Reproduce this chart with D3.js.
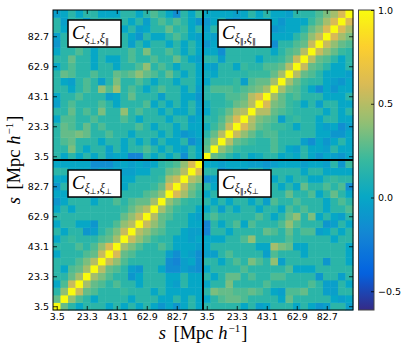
<!DOCTYPE html>
<html><head><meta charset="utf-8">
<script src="https://cdn.jsdelivr.net/npm/d3@7"></script>
<style>body{margin:0;background:#fff}svg{display:block}</style>
</head><body>
<svg id="c" width="407" height="351"></svg>
<script>
// ---------- data ----------
const sTicks = ["3.5","23.3","43.1","62.9","82.7"];
const sTickBins = [0,4,8,12,16];
const cbTicks = [-0.5, 0.0, 0.5, 1.0];
const colorDomain = [-0.6, 1.0];
const parulaStops = ["#352a87","#0363e1","#1485d4","#06a7c6","#38b99e","#92bf73","#d9ba56","#fcce2e","#f9fb0e"];

// C_{xi_perp, xi_par} as drawn in the top-left panel (rows top -> bottom, columns left -> right)
const crossRows = [
 [-.05,0,.15,0,.15,.15,0,0,0,.15,.15,0,.15,.25,.15,0,-.15,.15,0,.2],
 [.15,-.05,.15,.15,-.05,.15,.15,.15,.15,.15,0,.15,-.05,.15,.25,.15,.25,.15,0,-.1],
 [.15,0,-.05,-.05,.15,.15,.15,.15,.15,0,.15,-.05,0,.15,.15,.3,.15,.2,0,.15],
 [-.05,.15,-.05,-.05,.15,.15,-.1,.15,.15,.15,0,-.1,.15,0,0,.15,.25,.15,0,-.05],
 [-.1,.15,.15,.15,-.1,.15,.15,.15,.15,.15,-.05,.15,0,.15,.15,0,.15,0,.15,0],
 [0,.15,.15,.25,.15,0,.15,.15,.15,.15,.25,.15,.35,.15,.15,.25,.15,0,.15,0],
 [.15,.15,.3,.15,.15,0,.15,0,0,.15,.25,.15,.15,.25,.15,.15,.3,.15,0,-.05],
 [0,.15,.25,.15,.15,0,.15,.15,0,.15,.15,.25,.4,.15,.25,.15,0,.15,.15,0],
 [.15,.3,.25,.15,.15,.25,.15,.15,.3,.25,.3,.4,.3,.25,.15,.3,.15,0,.15,0],
 [.15,0,-.05,.15,.25,.15,-.05,.15,.35,.15,.15,.25,.15,0,.15,.15,0,.15,.15,0],
 [.15,.15,0,.15,.25,.15,.4,.25,.45,.15,.25,.15,0,.15,.25,.15,.15,0,.15,-.05],
 [0,.15,.15,.25,.15,.15,.15,-.05,0,.15,.3,.15,.15,.15,-.05,.15,.15,0,0,-.1],
 [-.05,.15,.25,.15,.15,.15,.25,.15,0,.15,.15,.15,.25,0,.15,0,.15,0,.15,-.05],
 [.15,.15,.3,.15,.25,.15,.35,.15,.15,.4,.15,.25,.15,.15,0,.15,0,0,.15,-.05],
 [0,.25,.25,.15,.15,.25,.15,.15,.15,.25,.15,0,.15,.15,.15,0,.15,.15,-.05,0],
 [.15,.3,.25,.15,.3,.15,.25,.15,.15,.15,.15,.25,.15,0,.15,.15,0,.15,0,0],
 [.15,.3,.3,.35,.3,.15,.15,.25,.15,.15,0,.15,.15,.15,0,.15,0,-.1,-.05,0],
 [.15,.25,.3,.15,.15,.15,0,.15,.15,0,.15,0,.15,-.05,.15,0,0,.15,-.15,-.05],
 [.15,.15,.35,.15,0,.15,.15,-.05,.15,0,.15,.15,.25,.15,0,.15,0,-.05,.15,0],
 [.15,0,.15,0,.15,0,.15,-.05,0,0,-.2,-.2,.15,0,.15,0,.15,-.15,.15,0]
];

// C_{xi_par, xi_par}: row j (bin from bottom) lists bins i = j+1 .. 19 (symmetric, diagonal = 1)
const parUpper = [
 [.3,.25,.15,.05,.15,0,.05,.15,.15,0,.05,0,.15,0,-.1,0,-.05,-.1,0],
 [.4,.3,.2,.15,.15,.15,.15,.25,.15,0,-.05,.15,0,0,-.05,.15,0,0],
 [.5,.3,.25,.2,.15,.15,.25,.15,.15,.15,-.05,-.15,0,-.1,0,.15,0],
 [.55,.4,.3,.2,.25,.25,.15,.15,.15,.15,.15,0,0,-.1,-.1,0],
 [.6,.45,.3,.25,.2,.2,.15,0,.15,.15,0,-.05,0,-.15,-.05],
 [.5,.35,.3,.25,-.05,.15,.2,.15,.15,0,.15,.15,0,0],
 [.5,.5,.3,.25,.2,.15,.15,.15,.15,0,.15,0,.15],
 [.6,.35,.3,.2,.15,0,.15,-.05,.15,.15,0,0],
 [.45,.3,.2,.25,.15,.15,.15,0,0,0,.15],
 [.45,.3,.25,.15,0,-.15,0,-.1,0,0],
 [.45,.3,.2,.15,.15,0,-.05,-.1,0],
 [.5,.3,.25,.15,0,0,0,-.05],
 [.55,.3,.25,.15,0,0,.15],
 [.5,.3,.25,.15,0,.15],
 [.55,.4,.3,.2,.15],
 [.55,.4,.3,.25],
 [.6,.45,.35],
 [.6,.45],
 [.6]
];

// C_{xi_perp, xi_perp}: same layout
const perpUpper = [
 [.3,.15,0,.15,.15,.15,0,.15,0,.15,0,.15,0,-.1,0,-.1,0,.15,0],
 [.4,.25,.15,0,.15,.15,.15,.15,0,.15,.15,.15,0,0,.15,0,.15,0],
 [.55,.3,.25,.15,.15,.15,.2,.15,.15,.15,0,.15,0,0,0,0,0],
 [.45,.3,.25,.15,.25,.15,.15,0,.15,.15,.15,0,-.05,.15,0,0],
 [.45,.35,.25,.15,.15,-.1,0,.15,.15,.15,0,0,.15,0,0],
 [.5,.3,.25,.15,-.05,-.1,.15,.15,0,-.15,-.15,-.05,-.1,-.15],
 [.55,.4,.25,.15,.15,.15,.15,.15,-.15,-.2,-.05,0,-.15],
 [.6,.3,.25,.15,.15,.15,.15,-.05,-.15,0,-.05,-.15],
 [.45,.35,.25,.15,.15,.25,.15,0,0,0,-.05],
 [.55,.4,.3,.2,.15,.15,0,0,-.05,0],
 [.5,.4,.3,.25,.15,.15,0,-.05,-.05],
 [.55,.4,.3,.15,.15,.15,0,0],
 [.5,.3,.25,.15,.15,0,-.05],
 [.45,.3,.2,.15,.15,0],
 [.4,.3,.2,.15,.15],
 [.6,.45,.3,.2],
 [.55,.35,.25],
 [.5,.4],
 [.6]
];

const panelLabels = [["⊥","∥"],["∥","∥"],["⊥","⊥"],["∥","⊥"]];

// ---------- build matrices M[j][i] (j: bin from bottom, i: bin from left) ----------
const N = 20;
function fromUpper(U){
  return d3.range(N).map(j => d3.range(N).map(i =>
    i === j ? 1 : (i > j ? U[j][i-j-1] : U[i][j-i-1])));
}
const crossM = d3.range(N).map(j => crossRows[N-1-j].slice());
const crossT = d3.range(N).map(j => d3.range(N).map(i => crossM[i][j]));
const parM = fromUpper(parUpper);
const perpM = fromUpper(perpUpper);

const panels = [
  {M: crossM, xo: 0,  yo: N, lab: panelLabels[0]},
  {M: parM,   xo: N,  yo: N, lab: panelLabels[1]},
  {M: perpM,  xo: 0,  yo: 0, lab: panelLabels[2]},
  {M: crossT, xo: N,  yo: 0, lab: panelLabels[3]}
];

// ---------- scales ----------
const L = 53, R = 353, T = 10, B = 310;
const x = d3.scaleLinear().domain([-0.5, 2*N-0.5]).range([L, R]);
const y = d3.scaleLinear().domain([-0.5, 2*N-0.5]).range([B, T]);
const color = d3.scaleLinear()
  .domain(parulaStops.map((_, k) => colorDomain[0] + (colorDomain[1]-colorDomain[0]) * k/(parulaStops.length-1)))
  .range(parulaStops).clamp(true);

const svg = d3.select("#c");

// ---------- cells ----------
const cells = [];
panels.forEach(p => {
  for (let j = 0; j < N; j++) for (let i = 0; i < N; i++)
    cells.push({xi: i + p.xo, yj: j + p.yo, v: p.M[j][i]});
});
svg.append("g").selectAll("rect").data(cells).join("rect")
  .attr("x", d => x(d.xi - 0.5))
  .attr("y", d => y(d.yj + 0.5))
  .attr("width", x(1) - x(0) + 0.4)
  .attr("height", y(0) - y(1) + 0.4)
  .attr("fill", d => color(d.v));

// ---------- axes ----------
const tickBins = sTickBins.concat(sTickBins.map(b => b + N));
const fmt = b => sTicks[sTickBins.indexOf(b % N)];
function styleAxis(g){
  g.selectAll(".domain").remove();
  g.selectAll(".tick line").attr("stroke", "#000").attr("stroke-width", 0.8);
  g.selectAll(".tick text").attr("font-family", "DejaVu Sans").attr("font-size", 9.5).attr("fill", "#000");
}
svg.append("g").attr("transform", `translate(0,${B})`)
  .call(d3.axisBottom(x).tickValues(tickBins).tickFormat(fmt).tickSizeInner(-4).tickSizeOuter(0).tickPadding(3))
  .call(styleAxis);
svg.append("g").attr("transform", `translate(0,${T})`)
  .call(d3.axisTop(x).tickValues(tickBins).tickFormat("").tickSizeInner(-4).tickSizeOuter(0))
  .call(styleAxis);
svg.append("g").attr("transform", `translate(${L},0)`)
  .call(d3.axisLeft(y).tickValues(tickBins).tickFormat(fmt).tickSizeInner(-4).tickSizeOuter(0).tickPadding(4))
  .call(styleAxis);
svg.append("g").attr("transform", `translate(${R},0)`)
  .call(d3.axisRight(y).tickValues(tickBins).tickFormat("").tickSizeInner(-4).tickSizeOuter(0))
  .call(styleAxis);

// frame and dividers
svg.append("rect").attr("x", L).attr("y", T).attr("width", R-L).attr("height", B-T)
  .attr("fill", "none").attr("stroke", "#000").attr("stroke-width", 1);
svg.append("line").attr("x1", x(N-0.5)).attr("x2", x(N-0.5)).attr("y1", T).attr("y2", B)
  .attr("stroke", "#000").attr("stroke-width", 2);
svg.append("line").attr("y1", y(N-0.5)).attr("y2", y(N-0.5)).attr("x1", L).attr("x2", R)
  .attr("stroke", "#000").attr("stroke-width", 2);

// ---------- panel labels ----------
panels.forEach(p => {
  const bx = x(p.xo - 0.5) + 15, by = y(p.yo + N - 0.5) + 10;
  const g = svg.append("g").attr("transform", `translate(${bx},${by})`);
  g.append("rect").attr("width", 53).attr("height", 27).attr("fill", "#fff")
    .attr("stroke", "#000").attr("stroke-width", 1.5);
  const t = g.append("text").attr("x", 4).attr("y", 18.5).attr("font-family", "Liberation Serif").attr("fill", "#000");
  t.append("tspan").attr("font-style", "italic").attr("font-size", 19).text("C");
  t.append("tspan").attr("font-style", "italic").attr("font-size", 12).attr("dy", 3).text("ξ");
  t.append("tspan").attr("font-size", 8).attr("font-family", "DejaVu Sans").attr("dy", 2).text(p.lab[0]);
  t.append("tspan").attr("font-size", 12).attr("dy", -2).text(",");
  t.append("tspan").attr("font-style", "italic").attr("font-size", 12).text("ξ");
  t.append("tspan").attr("font-size", 8).attr("font-family", "DejaVu Sans").attr("dy", 2).text(p.lab[1]);
});

// ---------- axis titles ----------
function title(sel){
  sel.attr("font-family", "Liberation Serif").attr("font-size", 18.5).attr("fill", "#000").attr("text-anchor", "middle");
  sel.append("tspan").attr("font-style", "italic").text("s");
  sel.append("tspan").attr("dx", 3).text(" [Mpc ");
  sel.append("tspan").attr("font-style", "italic").text("h");
  sel.append("tspan").attr("font-size", 11).attr("dy", -7).attr("dx", 1).text("−1");
  sel.append("tspan").attr("dy", 7).attr("dx", 1).text("]");
}
svg.append("text").attr("x", 203).attr("y", 339).call(title);
svg.append("text").attr("transform", "translate(20,160) rotate(-90)").call(title);

// ---------- colorbar ----------
const cbX = 358.5, cbW = 15.5;
const cbY = d3.scaleLinear().domain(colorDomain).range([B, T]);
const grad = svg.append("defs").append("linearGradient").attr("id", "cbg")
  .attr("x1", 0).attr("y1", 1).attr("x2", 0).attr("y2", 0);
grad.selectAll("stop").data(d3.range(0, 1.0001, 0.02)).join("stop")
  .attr("offset", d => d)
  .attr("stop-color", d => color(colorDomain[0] + d * (colorDomain[1]-colorDomain[0])));
svg.append("rect").attr("x", cbX).attr("y", T).attr("width", cbW).attr("height", B-T)
  .attr("fill", "url(#cbg)").attr("stroke", "#444").attr("stroke-width", 1);
svg.append("g").attr("transform", `translate(${cbX+cbW},0)`)
  .call(d3.axisRight(cbY).tickValues(cbTicks).tickFormat(d3.format(".1f")).tickSizeInner(-3).tickSizeOuter(0).tickPadding(4))
  .call(styleAxis);
</script>
</body></html>
